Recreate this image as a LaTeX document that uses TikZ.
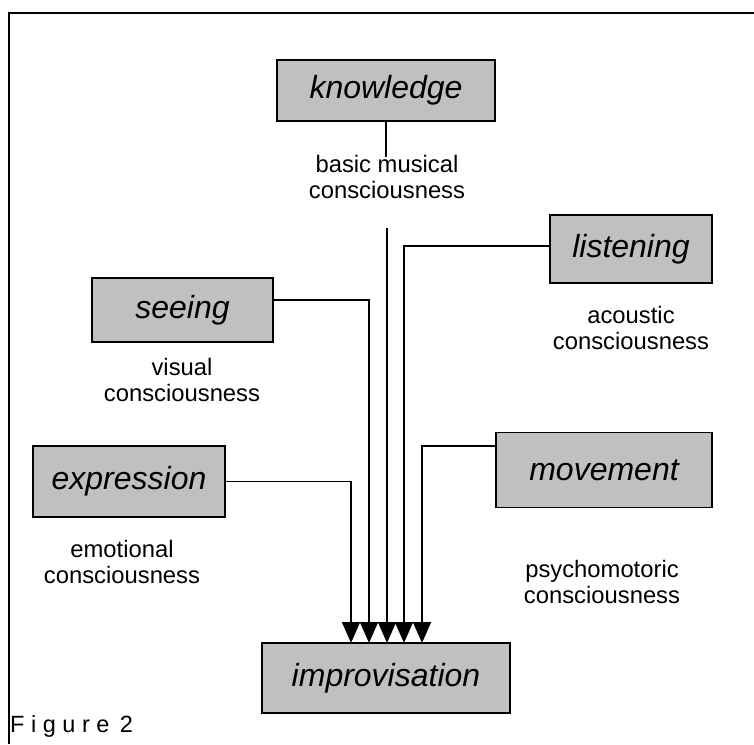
\documentclass[tikz,border=0pt]{standalone}
\usepackage{fontspec}
\setmainfont{Liberation Sans}
\usetikzlibrary{arrows.meta}
\definecolor{boxgray}{HTML}{C0C0C0}
\tikzset{
    box/.style={draw, rectangle, line width=1.4pt, fill=boxgray, inner sep=0pt, font=\fontsize{32}{36}\selectfont\itshape},
    note/.style={align=center, inner sep=0pt, anchor=north, font=\fontsize{23.8}{26.5}\selectfont},
    feed/.style={line width=1.7pt, -{Triangle[length=21pt, width=18pt]}}
}

\begin{document}
\begin{tikzpicture}[x=1pt, y=-1pt]
    \useasboundingbox (0,0) rectangle (754,744);
    \draw[line width=2pt] (9,744) -- (9,13) -- (754,13);

    \node[box, minimum width=218pt, minimum height=61pt] (knowledge) at (386,90.5) {knowledge};
    \node[box, minimum width=162pt, minimum height=68pt] (listening) at (631,249) {listening};
    \node[box, minimum width=181pt, minimum height=64pt] (seeing) at (182.5,310) {seeing};
    \node[box, minimum width=216pt, minimum height=75pt] (movement) at (604,470) {movement};
    \node[box, minimum width=192pt, minimum height=71pt] (expression) at (129,481.5) {expression};
    \node[box, minimum width=248pt, minimum height=70pt] (improv) at (386,678) {improvisation};

    \node[note] (basic) at (387,155) {basic musical\\consciousness};
    \node[note] (acoustic) at (631,306) {acoustic\\consciousness};
    \node[note] (visual) at (182,358) {visual\\consciousness};
    \node[note] (emotional) at (122,540) {emotional\\consciousness};
    \node[note] (psycho) at (602,560) {psychomotoric\\consciousness};
    \node[anchor=base west, inner sep=0pt, font=\fontsize{23.5}{26}\selectfont] (caption) at (10,732) {F i g u r e \,2};

    % entry points on top of improvisation
    \foreach \i/\x in {1/351,2/369,3/387,4/404,5/422}
        \coordinate (in\i) at (\x,643);
    \coordinate (kstart) at (387,228);

    \draw[line width=1.4pt] (knowledge.south) -- (knowledge.south |- 0,157);
    \draw[feed] (expression.east) -| (in1);
    \draw[feed] (seeing.east |- 0,300) -| (in2);
    \draw[feed] (kstart) -- (in3);
    \draw[feed] (listening.west |- 0,246) -| (in4);
    \draw[feed] (movement.west |- 0,446) -| (in5);
\end{tikzpicture}
\end{document}
